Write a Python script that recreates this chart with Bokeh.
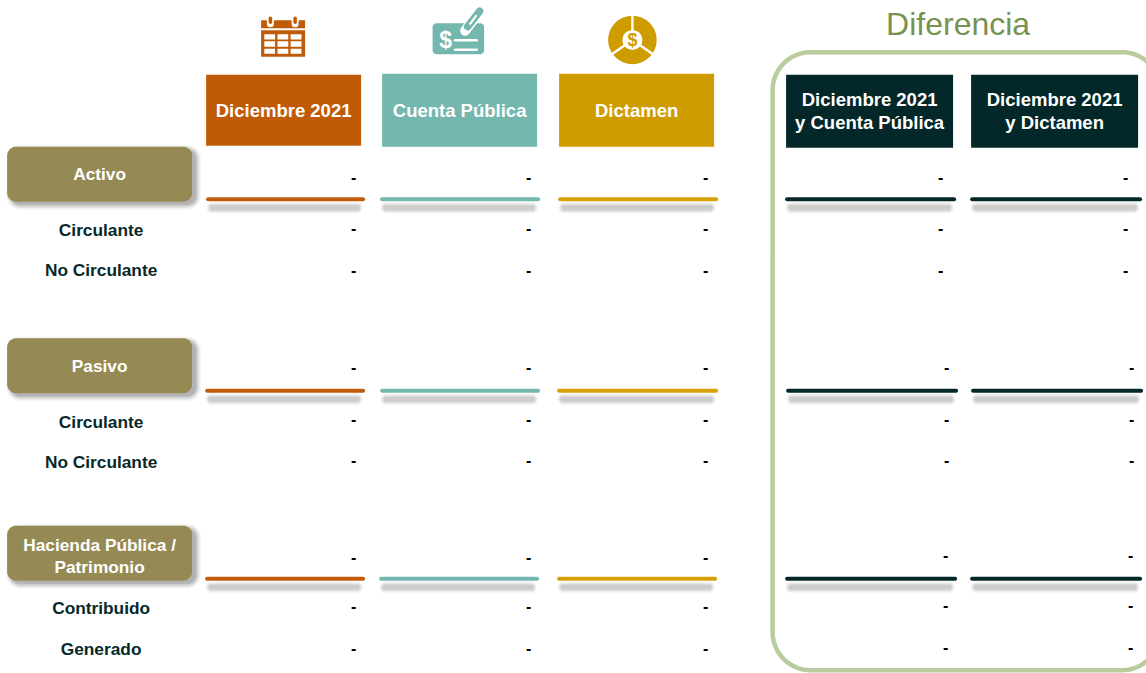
import numpy as np
from bokeh.plotting import figure
from bokeh.models import Range1d
from bokeh.core.properties import value
from bokeh.embed import file_html
from bokeh.resources import INLINE

# ---- content
column_labels = ["Diciembre 2021", "Cuenta Pública", "Dictamen",
                 "Diciembre 2021\ny Cuenta Pública", "Diciembre 2021\ny Dictamen"]
group_labels = ["Activo", "Pasivo", "Hacienda Pública /\nPatrimonio"]
sub_labels = [["Circulante", "No Circulante"], ["Circulante", "No Circulante"], ["Contribuido", "Generado"]]
cell_values = [
    ["-", "-", "-", "-", "-"], ["-", "-", "-", "-", "-"], ["-", "-", "-", "-", "-"],
    ["-", "-", "-", "-", "-"], ["-", "-", "-", "-", "-"], ["-", "-", "-", "-", "-"],
    ["-", "-", "-", "-", "-"], ["-", "-", "-", "-", "-"], ["-", "-", "-", "-", "-"],
]
title_text = "Diferencia"

# ---- layout and style
col_colors = ["#BF5B06", "#73B7AE", "#CF9C00", "#042829", "#042829"]
line_colors = ["#C05C0A", "#73B7AE", "#D6A106", "#042829", "#042829"]
head_left = [206, 382, 559, 786, 971]
head_right = [361, 537, 714, 953, 1138]
head_top = [75, 74, 74, 75, 75]
head_bottom = [146, 147, 147, 148, 148]
dash_x = [[353.5, 528.5, 705.5, 940.5, 1125.5], [353.5, 528.5, 705.5, 946.5, 1131.5], [353.5, 528.5, 705.5, 945.5, 1130.5]]
dash_y = [[177, 228, 270], [367, 419, 460], [557, 606, 648]]
dash_y_diff = [[177, 228, 270], [367, 419, 460], [555, 605, 647]]
rule_y = [199.5, 391, 579]
rule_l = [[207, 381, 559, 786, 971], [206, 381, 558, 787, 972], [206, 380, 558, 786, 971]]
rule_r = [[364, 539, 717, 955, 1141], [364, 539, 717, 957, 1142], [364, 538, 716, 956, 1141]]
badge_top = [147, 338.5, 526]
badge_bot = [202, 393.5, 581]
badge_text_y = [[174], [366], [545, 567]]
sub_y = [[230, 270], [422, 462], [608, 649]]
OLIVE = "#968A54"
TEXT_DARK = "#06292A"
FONT = value("Liberation Sans")

p = figure(width=1146, height=673, x_range=Range1d(0.4, 1146.4), y_range=Range1d(673.8, 0.8),
           x_axis_type=None, y_axis_type=None, toolbar_location=None, output_backend="svg",
           min_border=0, outline_line_color=None, background_fill_color="white")
p.grid.visible = False


def rounded(l, t, r, b, rad, n=10):
    a = np.linspace(0, np.pi / 2, n)
    xs = np.concatenate([r - rad + rad * np.sin(a), r - rad + rad * np.cos(a),
                         l + rad - rad * np.sin(a), l + rad - rad * np.cos(a)])
    ys = np.concatenate([t + rad - rad * np.cos(a), b - rad + rad * np.sin(a),
                         b - rad + rad * np.cos(a), t + rad - rad * np.sin(a)])
    return list(xs), list(ys)


def txt(x, y, s, size, color, bold=True, align="center"):
    p.text([x], [y], text=[s], text_font=FONT, text_font_size=f"{size}px",
           text_font_style="bold" if bold else "normal", text_color=color,
           text_align=align, text_baseline="middle")


# frame + title
fx, fy = rounded(772.5, 52.5, 1160, 670.5, 38, 20)
p.line(fx + fx[:1], fy + fy[:1], line_color="#B9CC9E", line_width=4.5)
txt(958, 24, title_text, 32, "#77934F", bold=False)

# header boxes
p.quad(left=head_left, right=head_right, top=head_top, bottom=head_bottom, fill_color=col_colors, line_color=None)
for i, lab in enumerate(column_labels):
    cx = (head_left[i] + head_right[i]) / 2
    parts = lab.split("\n")
    if len(parts) == 1:
        txt(cx, 110.5, parts[0], 18.5, "white")
    else:
        txt(cx, 100, parts[0], 18.5, "white")
        txt(cx, 123, parts[1], 18.5, "white")

# calendar icon
C = col_colors[0]
p.quad(left=[261], right=[305], top=[20.5], bottom=[28.5], fill_color=C, line_color=None)
p.quad(left=[261], right=[305], top=[30.5], bottom=[57], fill_color=C, line_color=None)
for x in (270.3, 295):
    p.segment([x], [17], [x], [24], line_color="white", line_width=7, line_cap="round")
    p.segment([x], [18.5], [x], [22.5], line_color=C, line_width=3.5, line_cap="round")
cl = [264.2, 277.4, 290.5]
cr = [275, 288.2, 301.4]
ct = [34.5, 41.6, 49]
cb = [39.9, 47, 54]
for i in range(3):
    for j in range(3):
        p.quad(left=[cl[i]], right=[cr[i]], top=[ct[j]], bottom=[cb[j]], fill_color="white", line_color=None)

# cheque icon
T = col_colors[1]
bx, by = rounded(432.5, 23.5, 484, 54.5, 4)
p.patch(bx, by, fill_color=T, line_color=None)
p.line([465, 479], [31, 12], line_color="white", line_width=10, line_cap="round")
p.line([467.5, 479.5], [27, 11.5], line_color=T, line_width=7.5, line_cap="round")
p.line([469.5, 476.5], [25, 15.5], line_color="white", line_width=2)
p.segment([466], [30], [464.5], [33], line_color="white", line_width=1.5)
txt(445.5, 40, "$", 23, "white")
p.segment([455, 455], [40.5, 50], [476.5, 476.5], [40.5, 50], line_color="white", line_width=2.6, line_cap="round")

# dollar ring icon
G = col_colors[2]
cx0, cy0 = 632.3, 40.2
p.annular_wedge([cx0], [cy0], inner_radius=10, outer_radius=24.3, start_angle=0, end_angle=2 * np.pi,
                fill_color=G, line_color=None)
for ang in (-90, 35, 145):
    a = np.deg2rad(ang)
    p.segment([cx0 + 8 * np.cos(a)], [cy0 + 8 * np.sin(a)], [cx0 + 26 * np.cos(a)], [cy0 + 26 * np.sin(a)],
              line_color="white", line_width=2.4)
txt(cx0, cy0, "$", 18, G)

# badges
for k in range(3):
    for grow, alpha in ((5, .04), (4, .05), (3, .07), (2, .08), (1, .10), (0, .14)):
        sx, sy = rounded(7 + 4 - grow, badge_top[k] + 3 - grow, 192 + 4 + grow, badge_bot[k] + 3 + grow, 9 + grow)
        p.patch(sx, sy, fill_color="#404040", fill_alpha=alpha, line_color=None)
    bx, by = rounded(7, badge_top[k], 192, badge_bot[k], 9)
    p.patch(bx, by, fill_color=OLIVE, line_color=None)
    for s, y in zip(group_labels[k].split("\n"), badge_text_y[k]):
        txt(99.5, y, s, 17.3, "white")
    for s, y in zip(sub_labels[k], sub_y[k]):
        txt(101, y, s, 17.3, TEXT_DARK)

# rules with soft shadow
for k in range(3):
    y = rule_y[k]
    for i in range(5):
        l, r = rule_l[k][i], rule_r[k][i]
        for w, alpha in ((12, .05), (10, .08), (8, .10), (6, .14), (4, .10)):
            p.segment([l + 5], [y + 8.5], [r - 7], [y + 8.5], line_color="#808080", line_alpha=alpha,
                      line_width=w, line_cap="round")
        p.segment([l + 1], [y], [r - 1], [y], line_color=line_colors[i], line_width=4, line_cap="round")

# dash cells
for k in range(3):
    for j in range(3):
        row = cell_values[k * 3 + j]
        for i in range(5):
            yy = dash_y[k][j] if i < 3 else dash_y_diff[k][j]
            txt(dash_x[k][i], yy, row[i], 16, "black")

open("out.html", "w").write(file_html(p, INLINE))
